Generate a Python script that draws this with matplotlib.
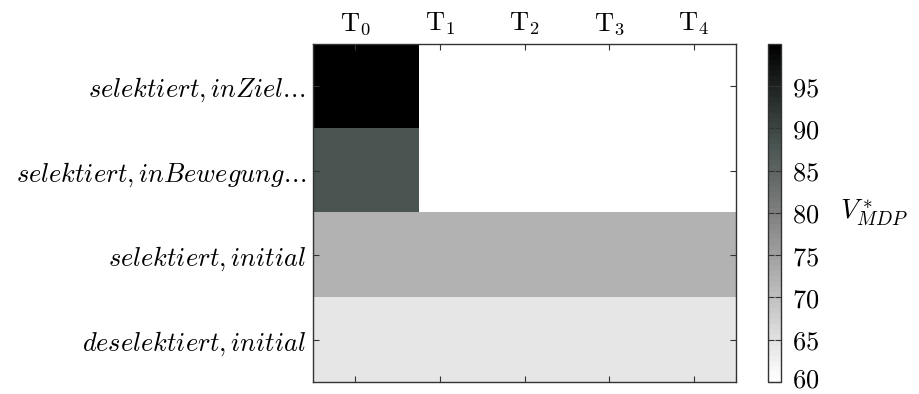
import numpy as np
import matplotlib
matplotlib.use("Agg")
import matplotlib.pyplot as plt
import matplotlib.transforms as mtransforms
from matplotlib.colors import LinearSegmentedColormap

plt.rcParams["mathtext.fontset"] = "cm"
plt.rcParams["font.family"] = "serif"
plt.rcParams["font.serif"] = ["DejaVu Serif"]

states = [r"$selektiert, inZiel.\!.\!.$",
          r"$selektiert, inBewegung.\!.\!.$",
          r"$selektiert, initial$",
          r"$deselektiert, initial$"]
steps = [r"$\mathrm{T}_0$", r"$\mathrm{T}_1$", r"$\mathrm{T}_2$",
         r"$\mathrm{T}_3$", r"$\mathrm{T}_4$"]

# value matrix: 4 states x 4 sampled columns, stretched over the 5 step labels
row_ziel = [100.0, np.nan, np.nan, np.nan]
row_bewegung = [88.0, np.nan, np.nan, np.nan]
row_sel_initial = [72.0, 72.0, 72.0, 72.0]
row_desel_initial = [64.0, 64.0, 64.0, 64.0]

cbar_ticks = [60, 65, 70, 75, 80, 85, 90, 95]
vmin, vmax = 60.0, 100.0

values = np.array([row_ziel, row_bewegung, row_sel_initial, row_desel_initial])

cmap = LinearSegmentedColormap.from_list(
    "graytint",
    [(0.0, (1.0, 1.0, 1.0)),
     (0.5, (0.5, 0.5, 0.5)),
     (0.7, (0.29, 0.33, 0.32)),
     (1.0, (0.0, 0.0, 0.0))], N=64)
cmap.set_bad((1.0, 1.0, 1.0))

fig = plt.figure(figsize=(9.19, 3.94), dpi=100)
ax = fig.add_axes([0.3406, 0.0305, 0.4603, 0.858])
cax = fig.add_axes([0.8357, 0.0305, 0.0141, 0.858])

im = ax.imshow(np.ma.masked_invalid(values), cmap=cmap, vmin=vmin, vmax=vmax,
               aspect="auto", interpolation="nearest",
               extent=(-0.5, len(steps) - 0.5, len(states) - 0.5, -0.5))

fs = 19
ax.set_xticks(range(len(steps)))
ax.set_xticklabels(steps, fontsize=fs)
ax.set_yticks(range(len(states)))
ax.set_yticklabels(states, fontsize=fs)
ax.tick_params(axis="both", direction="in", length=4, width=0.8, color="#333333",
               top=True, bottom=True, left=True, right=True,
               labeltop=True, labelbottom=False, pad=5)
for s in ax.spines.values():
    s.set_color("#333333")
    s.set_linewidth(1.0)

cb = fig.colorbar(im, cax=cax, ticks=cbar_ticks)
cb.ax.tick_params(direction="in", length=4, width=0.8, color="#333333",
                  left=True, right=True, labelsize=fs, pad=8)
cb.ax.set_yticklabels([rf"${t}$" for t in cbar_ticks])
cb.outline.set_edgecolor("#333333")
cb.outline.set_linewidth(1.0)
cb.set_label(r"$V^*_{MDP}$", fontsize=fs + 1, rotation=0, labelpad=15, va="center", ha="left")

# nudge the lowest colorbar label up so it stays inside the figure
lowest = cb.ax.get_yticklabels()[0]
lowest.set_transform(lowest.get_transform() +
                     mtransforms.ScaledTranslation(0, 4 / 100, fig.dpi_scale_trans))

fig.savefig("out.png", dpi=100)
